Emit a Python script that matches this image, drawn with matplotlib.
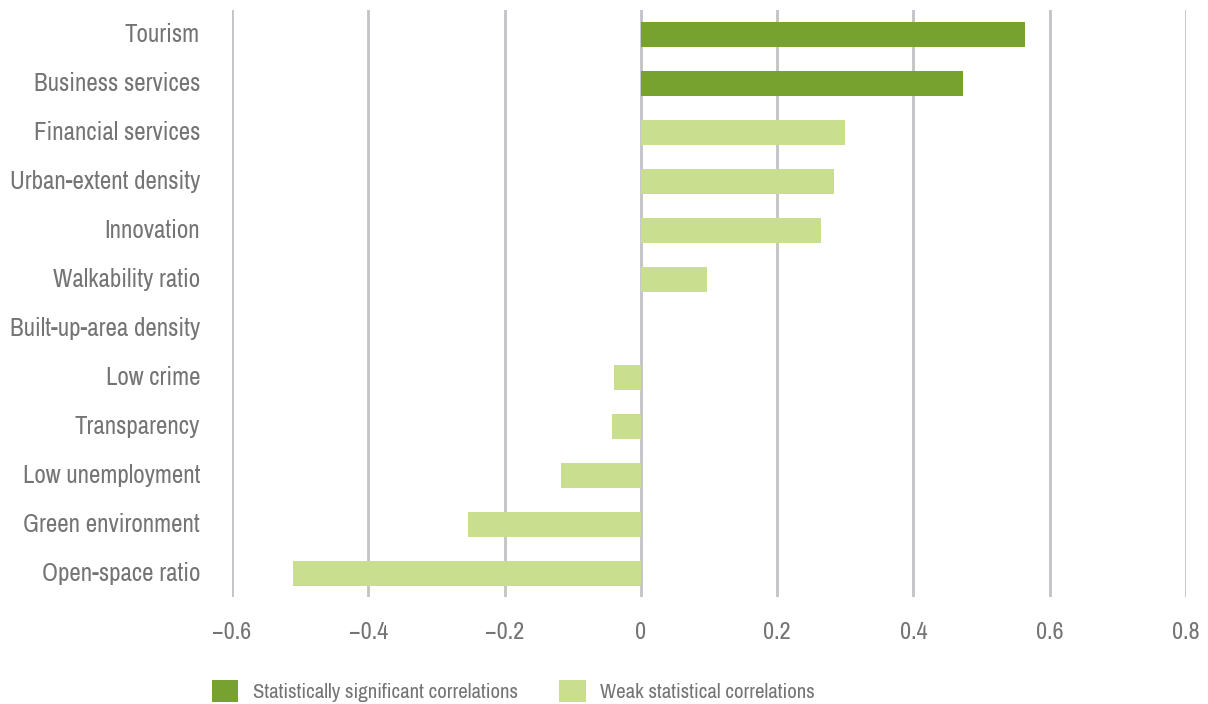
import matplotlib.pyplot as plt
from matplotlib import font_manager
from matplotlib.patches import Patch

# Correlation of each city factor with the outcome
factors = [
    "Tourism", "Business services", "Financial services", "Urban-extent density",
    "Innovation", "Walkability ratio", "Built-up-area density", "Low crime",
    "Transparency", "Low unemployment", "Green environment", "Open-space ratio",
]
correlations = [0.564, 0.473, 0.299, 0.284, 0.264, 0.097, 0.0, -0.039,
                -0.042, -0.117, -0.254, -0.510]
significant = [True, True, False, False, False, False, False, False,
               False, False, False, False]
x_ticks = [-0.6, -0.4, -0.2, 0, 0.2, 0.4, 0.6, 0.8]
x_tick_labels = ["\u22120.6", "\u22120.4", "\u22120.2", "0", "0.2", "0.4", "0.6", "0.8"]

DARK = "#78a22f"
LIGHT = "#c9df8f"
TEXT = "#747474"
GRID = "#c3c3c7"

# prefer a narrow face if one is around
names = {f.name for f in font_manager.fontManager.ttflist}
narrow = [n for n in sorted(names) if 'Narrow' in n or 'Condensed' in n]
family = narrow[0] if narrow else 'Roboto'
plt.rcParams['font.family'] = [family, 'DejaVu Sans']
plt.rcParams['font.weight'] = 'light'

fig = plt.figure(figsize=(12.08, 7.04), dpi=100)
ax = fig.add_axes([232 / 1208, 1 - 597 / 704, (1186 - 232) / 1208, (597 - 10) / 704])

colors = [DARK if s else LIGHT for s in significant]
ax.barh(range(len(factors)), correlations, height=0.51, color=colors, zorder=2)

ax.set_xlim(-0.6, 0.8)
ax.set_ylim(len(factors) - 1 + 0.47, -0.49)
ax.set_xticks(x_ticks)
ax.set_xticklabels(x_tick_labels)
ax.set_yticks(range(len(factors)))
ax.set_yticklabels(factors, va='center')
ax.tick_params(axis='both', length=0, colors=TEXT)
ax.tick_params(axis='x', labelsize=17.5, pad=18)
ax.tick_params(axis='y', labelsize=18, pad=23)
ax.grid(axis='x', color=GRID, linewidth=2, zorder=1)
ax.set_axisbelow(True)
for s in ax.spines.values():
    s.set_visible(False)

handles = [Patch(facecolor=DARK, label="Statistically significant correlations"),
           Patch(facecolor=LIGHT, label="Weak statistical correlations")]
fig.legend(handles=handles, loc='center left', bbox_to_anchor=(212 / 1208, 1 - 691 / 704),
           ncol=2, frameon=False, borderpad=0, borderaxespad=0,
           handlelength=1.27, handleheight=1.27, handletextpad=0.68,
           columnspacing=2.0, fontsize=15, labelcolor=TEXT)

fig.savefig("out.png", dpi=100)
